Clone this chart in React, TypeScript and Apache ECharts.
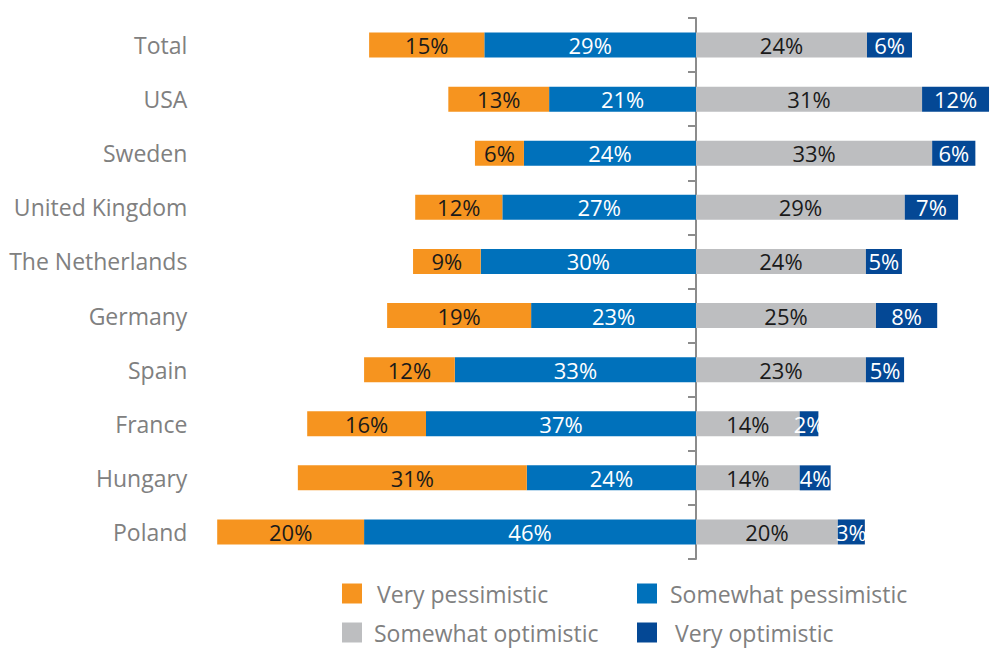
import React, { useEffect, useRef } from "react";
import * as echarts from "echarts";

const categories = ["Total", "USA", "Sweden", "United Kingdom", "The Netherlands", "Germany", "Spain", "France", "Hungary", "Poland"];

// Segment lengths as drawn (in %)
const veryPessimistic = [16.0, 14.0, 6.8, 12.1, 9.4, 20.0, 12.6, 16.5, 31.8, 20.4];
const somewhatPessimistic = [29.4, 20.4, 23.9, 26.9, 29.9, 22.9, 33.5, 37.5, 23.5, 46.1];
const somewhatOptimistic = [23.75, 31.4, 32.8, 29.0, 23.6, 25.0, 23.6, 14.4, 14.4, 19.7];
const veryOptimistic = [6.25, 9.3, 6.0, 7.4, 5.0, 8.5, 5.3, 2.6, 4.3, 3.75];

// Printed labels (%)
const veryPessimisticLabels = [15, 13, 6, 12, 9, 19, 12, 16, 31, 20];
const somewhatPessimisticLabels = [29, 21, 24, 27, 30, 23, 33, 37, 24, 46];
const somewhatOptimisticLabels = [24, 31, 33, 29, 24, 25, 23, 14, 14, 20];
const veryOptimisticLabels = [6, 12, 6, 7, 5, 8, 5, 2, 4, 3];

const FONT = "'Open Sans', 'Noto Sans', sans-serif";

export default function App() {
  const ref = useRef<HTMLDivElement>(null);
  useEffect(() => {
    if (!ref.current) return;
    const chart = echarts.init(ref.current, null, { renderer: "svg" });
    const mkLabel = (labels: number[], color: string) => ({
      show: true,
      position: "inside",
      color,
      fontSize: 22,
      fontFamily: FONT,
      formatter: (p: any) => labels[p.dataIndex] + "%",
    });
    const legendBase = {
      orient: "horizontal",
      itemWidth: 20,
      itemHeight: 20,
      icon: "rect",
      selectedMode: false,
      padding: 0,
    };
    const legendText = (pad: number) => ({
      fontSize: 23,
      lineHeight: 22,
      color: "#808080",
      fontFamily: FONT,
      padding: [0, 0, 0, pad],
    });
    chart.setOption({
      animation: false,
      grid: [
        { left: 206.4, right: 9.8, top: 18, height: 541, containLabel: false },
        { left: 696, width: 10, top: 18, height: 541, containLabel: false },
      ],
      xAxis: [
        { type: "value", min: -68, max: 41, show: false, gridIndex: 0 },
        { type: "value", min: 0, max: 1, show: false, gridIndex: 1 },
      ],
      yAxis: [
        {
          type: "category",
          gridIndex: 0,
          data: categories,
          inverse: true,
          axisLine: { show: false },
          axisTick: { show: false },
          axisLabel: { fontSize: 23, color: "#808080", fontFamily: FONT, margin: 19 },
        },
        {
          type: "category",
          gridIndex: 1,
          data: categories,
          inverse: true,
          position: "left",
          axisLine: { show: true, onZero: false, lineStyle: { color: "#8c8c8c", width: 2 } },
          axisTick: { show: true, length: 8, alignWithLabel: false, lineStyle: { color: "#8c8c8c", width: 2 } },
          axisLabel: { show: false },
          splitLine: { show: false },
        },
      ],
      legend: [
        { ...legendBase, left: 342, top: 582, data: ["Very pessimistic"], textStyle: legendText(10) },
        { ...legendBase, left: 637, top: 582, data: ["Somewhat pessimistic"], textStyle: legendText(8) },
        { ...legendBase, left: 342, top: 621, data: ["Somewhat optimistic"], textStyle: legendText(7) },
        { ...legendBase, left: 637, top: 621, data: ["Very optimistic"], textStyle: legendText(13) },
      ],
      series: [
        {
          name: "Somewhat pessimistic",
          type: "bar",
          stack: "s",
          barWidth: 25,
          itemStyle: { color: "#0071BB" },
          label: mkLabel(somewhatPessimisticLabels, "#ffffff"),
          data: somewhatPessimistic.map((v) => -v),
        },
        {
          name: "Very pessimistic",
          type: "bar",
          stack: "s",
          barWidth: 25,
          itemStyle: { color: "#F6941F" },
          label: mkLabel(veryPessimisticLabels, "#1a1a1a"),
          data: veryPessimistic.map((v) => -v),
        },
        {
          name: "Somewhat optimistic",
          type: "bar",
          stack: "s",
          barWidth: 25,
          itemStyle: { color: "#BDBEC0" },
          label: mkLabel(somewhatOptimisticLabels, "#1a1a1a"),
          data: somewhatOptimistic,
        },
        {
          name: "Very optimistic",
          type: "bar",
          stack: "s",
          barWidth: 25,
          itemStyle: { color: "#044895" },
          label: mkLabel(veryOptimisticLabels, "#ffffff"),
          data: veryOptimistic,
        },
      ],
    });
    return () => chart.dispose();
  }, []);
  return (
    <div
      ref={ref}
      style={{ position: "fixed", left: 0, top: 0, width: 1001, height: 648, background: "#ffffff" }}
    />
  );
}
